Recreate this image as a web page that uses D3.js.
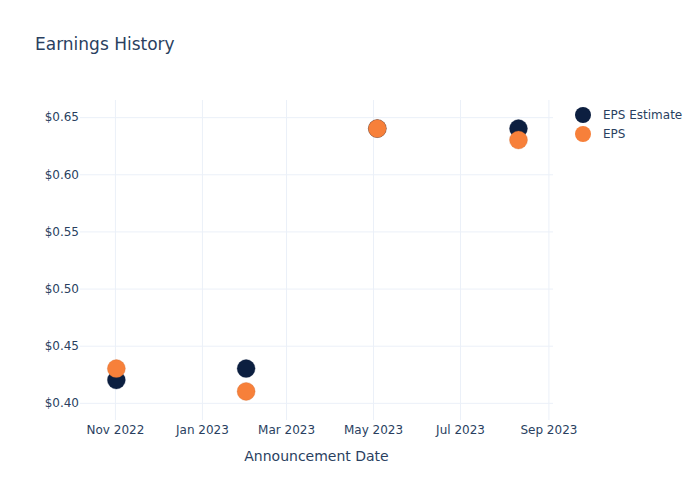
<!DOCTYPE html>
<html>
<head>
<meta charset="utf-8">
<script src="https://cdn.jsdelivr.net/npm/d3@7"></script>
<style>
  body { margin: 0; background: #fff; }
  svg, svg text { font-family: "DejaVu Sans", verdana, arial, sans-serif; }
</style>
</head>
<body>
<svg id="chart" width="700" height="500"></svg>
<script>
const dates = ["2022-11-02", "2023-02-01", "2023-05-04", "2023-08-11"];
const epsEstimate = [0.42, 0.43, 0.64, 0.64];
const eps = [0.43, 0.41, 0.64, 0.63];
const yTicks = [0.40, 0.45, 0.50, 0.55, 0.60, 0.65];
const xTicks = ["2022-11-01", "2023-01-01", "2023-03-01", "2023-05-01", "2023-07-01", "2023-09-01"];
const seriesNames = ["EPS Estimate", "EPS"];
const colors = ["#0c1f40", "#f7803a"];

const parse = d3.utcParse("%Y-%m-%d");
const svg = d3.select("#chart");
const plot = { left: 80, right: 553, top: 100, bottom: 420 };
const textColor = "#2a3f5f";
const gridColor = "#ebf0f8";
const fontFamily = '"DejaVu Sans", verdana, arial, sans-serif';

const x = d3.scaleUtc()
  .domain([new Date(Date.UTC(2022, 9, 7, 12)), new Date(Date.UTC(2023, 8, 4, 5))])
  .range([plot.left, plot.right]);
const y = d3.scaleLinear().domain([0.385, 0.665]).range([plot.bottom, plot.top]);

const xAxis = d3.axisBottom(x)
  .tickValues(xTicks.map(parse))
  .tickFormat(d3.utcFormat("%b %Y"))
  .tickSize(-(plot.bottom - plot.top))
  .tickPadding(8);
const gx = svg.append("g").attr("transform", `translate(0,${plot.bottom})`).call(xAxis)
  .attr("font-family", fontFamily).attr("font-size", 12);
gx.select(".domain").remove();
gx.selectAll(".tick line").attr("stroke", gridColor).attr("stroke-width", 1);
gx.selectAll(".tick text").attr("fill", textColor).attr("dy", "0.71em").attr("y", 5);

const yAxis = d3.axisLeft(y)
  .tickValues(yTicks)
  .tickFormat(d => "$" + d3.format(".2f")(d))
  .tickSize(-(plot.right - plot.left))
  .tickPadding(1);
const gy = svg.append("g").attr("transform", `translate(${plot.left},0)`).call(yAxis)
  .attr("font-family", fontFamily).attr("font-size", 12);
gy.select(".domain").remove();
gy.selectAll(".tick line").attr("stroke", gridColor).attr("stroke-width", 1);
gy.selectAll(".tick text").attr("fill", textColor).attr("x", -1);

svg.append("text").attr("x", 35).attr("y", 50)
  .attr("fill", textColor).attr("font-size", 17).text("Earnings History");

svg.append("text").attr("x", (plot.left + plot.right) / 2).attr("y", 461)
  .attr("text-anchor", "middle").attr("fill", textColor).attr("font-size", 14)
  .text("Announcement Date");

const seriesData = [epsEstimate, eps];
seriesData.forEach((vals, si) => {
  svg.append("g").selectAll("circle")
    .data(vals.map((v, i) => ({ date: parse(dates[i]), v })))
    .join("circle")
    .attr("cx", d => x(d.date))
    .attr("cy", d => y(d.v))
    .attr("r", 9)
    .attr("fill", colors[si])
    .attr("stroke", si === 1 ? "#c8682e" : colors[si])
    .attr("stroke-width", 0.5)
    .attr("stroke-opacity", 0.6);
});

const legend = svg.append("g");
seriesNames.forEach((name, i) => {
  const ly = 115 + i * 19;
  legend.append("circle").attr("cx", 583).attr("cy", ly).attr("r", 8).attr("fill", colors[i]);
  legend.append("text").attr("x", 603).attr("y", ly).attr("dy", "0.35em")
    .attr("fill", textColor).attr("font-size", 12).text(name);
});
</script>
</body>
</html>
